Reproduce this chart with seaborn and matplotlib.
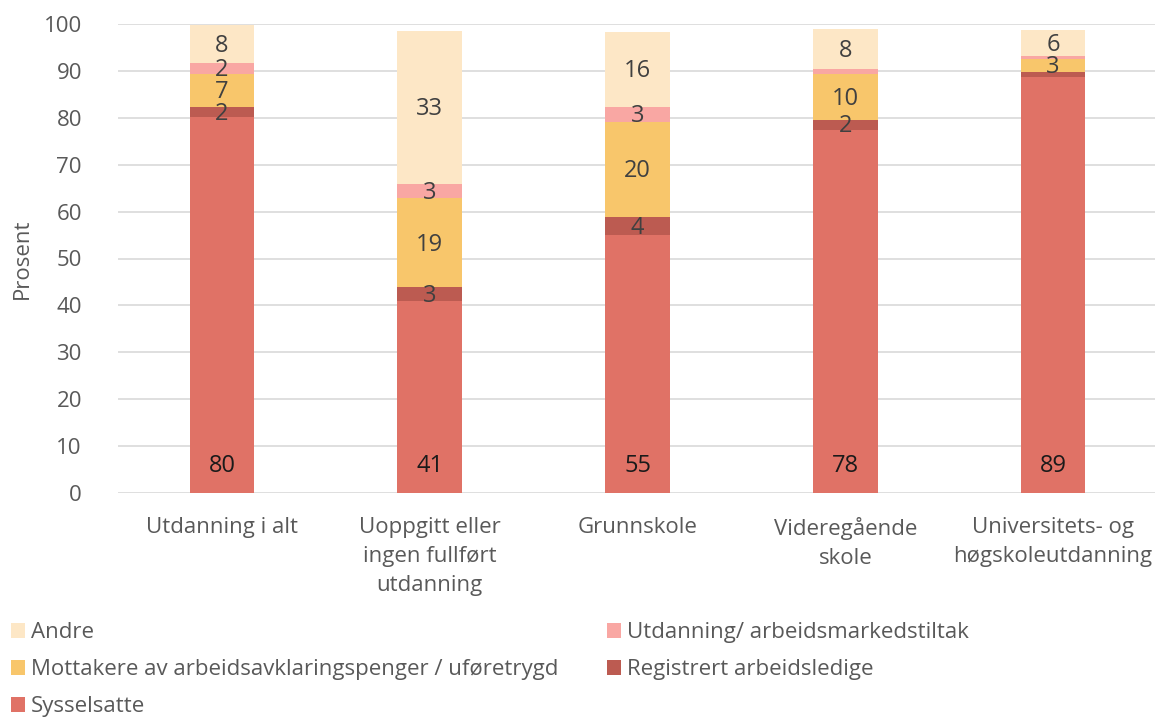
import matplotlib
matplotlib.use("Agg")
import matplotlib.pyplot as plt
import seaborn as sns
import numpy as np
from matplotlib.patches import Patch

categories = ["Utdanning i alt", "Uoppgitt eller\ningen fullført\nutdanning", "Grunnskole",
              "Videregående\nskole", "Universitets- og\nhøgskoleutdanning"]
sysselsatte = [80.1, 40.9, 55.0, 77.5, 88.6]
registrert = [2.2, 3.0, 3.9, 2.1, 1.1]
mottakere = [7.1, 18.9, 20.2, 9.8, 2.9]
utdanning = [2.3, 3.0, 3.3, 1.1, 0.5]
andre = [8.1, 32.8, 16.0, 8.4, 5.7]

series_names = ["Sysselsatte", "Registrert arbeidsledige",
                "Mottakere av arbeidsavklaringspenger / uføretrygd",
                "Utdanning/ arbeidsmarkedstiltak", "Andre"]
series_values = [sysselsatte, registrert, mottakere, utdanning, andre]
colors = ["#E07266", "#BC5B51", "#F8C66B", "#F9A7A3", "#FDE7C6"]

sns.set_theme(style="white")
plt.rcParams["font.family"] = ["Open Sans", "DejaVu Sans"]

fig = plt.figure(figsize=(11.55, 7.17), dpi=100)
ax = fig.add_axes([118 / 1155, 1 - 493 / 717, (1157 - 118) / 1155, (493 - 24) / 717])

bottom = np.zeros(len(categories))
for name, vals, col in zip(series_names, series_values, colors):
    sns.barplot(x=categories, y=vals, bottom=bottom, color=col, width=0.31,
                errorbar=None, ax=ax, saturation=1, linewidth=0, zorder=3)
    for i, v in enumerate(vals):
        if round(v) >= 2:
            if name == "Sysselsatte":
                ax.text(i, 5.8, f"{round(v)}", ha="center", va="center",
                        fontsize=17, color="#1a1a1a", zorder=5)
            else:
                ax.text(i, bottom[i] + v / 2 - 0.4, f"{round(v)}", ha="center", va="center",
                        fontsize=17, color="#404040", zorder=5)
    bottom = bottom + np.array(vals)

ax.set_ylim(0, 100)
ax.set_xlim(-0.5, 4.5)
ax.set_yticks(range(0, 101, 10))
ax.yaxis.grid(True, color="#D9D9D9", linewidth=1.2, zorder=0)
ax.set_axisbelow(True)
for s in ax.spines.values():
    s.set_visible(False)
ax.tick_params(axis="y", labelsize=16, labelcolor="#595959", pad=26, length=0)
ax.tick_params(axis="x", labelsize=16, labelcolor="#595959", pad=17, length=0)
for lbl in ax.get_xticklabels():
    lbl.set_linespacing(1.5)
ax.set_ylabel("Prosent", fontsize=16, color="#595959", labelpad=8)
ax.set_xlabel("")

# legend
h = {n: Patch(facecolor=c, edgecolor="none") for n, c in zip(series_names, colors)}
common = dict(loc="upper left", frameon=False, fontsize=16, labelcolor="#595959",
              handlelength=0.65, handleheight=0.65, handletextpad=0.25,
              labelspacing=0.72, borderaxespad=0)
leg1 = fig.legend([h["Andre"], h["Mottakere av arbeidsavklaringspenger / uføretrygd"], h["Sysselsatte"]],
                  ["Andre", "Mottakere av arbeidsavklaringspenger / uføretrygd", "Sysselsatte"],
                  bbox_to_anchor=(2 / 1155, 1 - 613 / 717), **common)
leg2 = fig.legend([h["Utdanning/ arbeidsmarkedstiltak"], h["Registrert arbeidsledige"]],
                  ["Utdanning/ arbeidsmarkedstiltak", "Registrert arbeidsledige"],
                  bbox_to_anchor=(598 / 1155, 1 - 613 / 717), **common)

fig.savefig("out.png", dpi=100)
